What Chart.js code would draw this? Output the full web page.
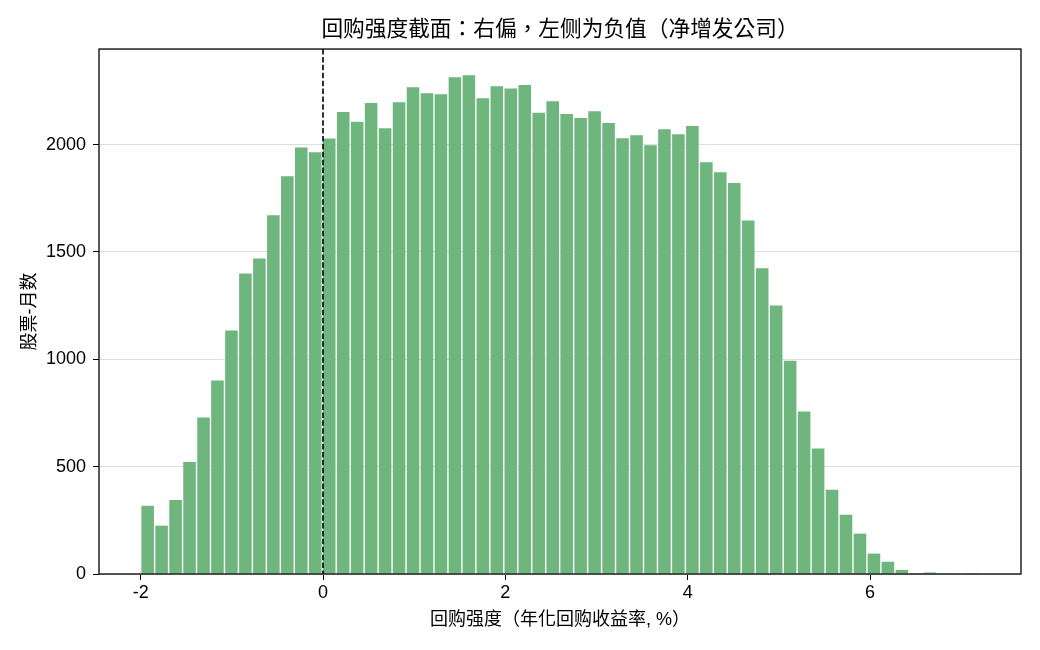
<!DOCTYPE html>
<html lang="zh-TW">
<head>
<meta charset="UTF-8">
<title>回购强度截面</title>
<script src="https://cdn.jsdelivr.net/npm/chart.js"></script>
<style>
  html, body { margin: 0; padding: 0; background: #fff; }
  canvas { display: block; }
</style>
</head>
<body>
<canvas id="grafico" width="1040" height="650"></canvas>
<script>
  // histograma: 60 bins iguales que empiezan en -2
  const binStart = -2;
  const binWidth = 0.1532;
  const conteos = [
    318, 225, 345, 522, 729, 901, 1134, 1400, 1470, 1671,
    1852, 1986, 1964, 2028, 2152, 2106, 2194, 2076, 2197, 2267,
    2239, 2235, 2314, 2323, 2216, 2272, 2261, 2277, 2148, 2202,
    2143, 2124, 2155, 2101, 2029, 2043, 1997, 2072, 2048, 2086,
    1918, 1871, 1821, 1647, 1424, 1251, 993, 757, 585, 392,
    276, 188, 95, 57, 19, 1, 7, 1, 0, 1
  ];
  const xTicks = [-2, 0, 2, 4, 6];
  const yTicks = [0, 500, 1000, 1500, 2000];
  const lineaCero = 0;

  const fuente = "'Liberation Sans', 'Noto Sans CJK TC', sans-serif";

  // linea discontinua en x=0 y marco completo del area
  const marco = {
    id: 'marco',
    afterDatasetsDraw(chart) {
      const { ctx, chartArea: a, scales: { x } } = chart;
      const px = x.getPixelForValue(lineaCero);
      ctx.save();
      ctx.strokeStyle = '#000';
      ctx.lineWidth = 1.6;
      ctx.setLineDash([5.5, 2.4]);
      ctx.beginPath();
      ctx.moveTo(px, a.top);
      ctx.lineTo(px, a.bottom);
      ctx.stroke();
      ctx.restore();
    },
    afterDraw(chart) {
      const { ctx, chartArea: a } = chart;
      ctx.save();
      ctx.strokeStyle = '#000';
      ctx.lineWidth = 1.3;
      ctx.strokeRect(a.left, a.top, a.right - a.left, a.bottom - a.top);
      ctx.restore();
    }
  };

  new Chart(document.getElementById('grafico'), {
    type: 'bar',
    data: {
      datasets: [{
        data: conteos.map((c, i) => ({ x: binStart + (i + 0.5) * binWidth, y: c })),
        backgroundColor: 'rgb(110, 181, 126)',
        borderWidth: 0,
        barPercentage: 0.9,
        categoryPercentage: 1
      }]
    },
    options: {
      responsive: false,
      animation: false,
      layout: { padding: { left: 0, right: 19, top: 0, bottom: 0 } },
      plugins: {
        legend: { display: false },
        tooltip: { enabled: false },
        title: {
          display: true,
          fullSize: false,
          text: '回购强度截面：右偏，左侧为负值（净增发公司）',
          color: '#000',
          font: { family: fuente, size: 21.7, weight: 'normal' },
          padding: { top: 17, bottom: 6 }
        }
      },
      scales: {
        x: {
          type: 'linear',
          min: -2.457,
          max: 7.656,
          offset: false,
          afterBuildTicks: s => { s.ticks = xTicks.map(v => ({ value: v })); },
          afterFit: s => { s.height = 76; },
          grid: { drawOnChartArea: false, offset: false, tickColor: '#000', tickLength: 6 },
          border: { display: false },
          ticks: { color: '#000', font: { family: fuente, size: 18, lineHeight: 1 }, padding: 4, maxRotation: 0 },
          title: {
            display: true,
            text: '回购强度（年化回购收益率, %）',
            color: '#000',
            font: { family: fuente, size: 18 },
            padding: { top: 0, bottom: 19 }
          }
        },
        y: {
          min: 0,
          max: 2445,
          z: 1,
          afterBuildTicks: s => { s.ticks = yTicks.map(v => ({ value: v })); },
          afterFit: s => { s.width = 99; },
          grid: { color: '#dddddd', lineWidth: 1, tickColor: '#000', tickLength: 6 },
          border: { display: false },
          ticks: {
            color: '#000',
            font: { family: fuente, size: 18 },
            padding: 7,
            callback: v => String(v)
          },
          title: {
            display: true,
            text: '股票-月数',
            color: '#000',
            font: { family: fuente, size: 18 },
            padding: { top: 19, bottom: 0 }
          }
        }
      }
    },
    plugins: [marco]
  });
</script>
</body>
</html>
